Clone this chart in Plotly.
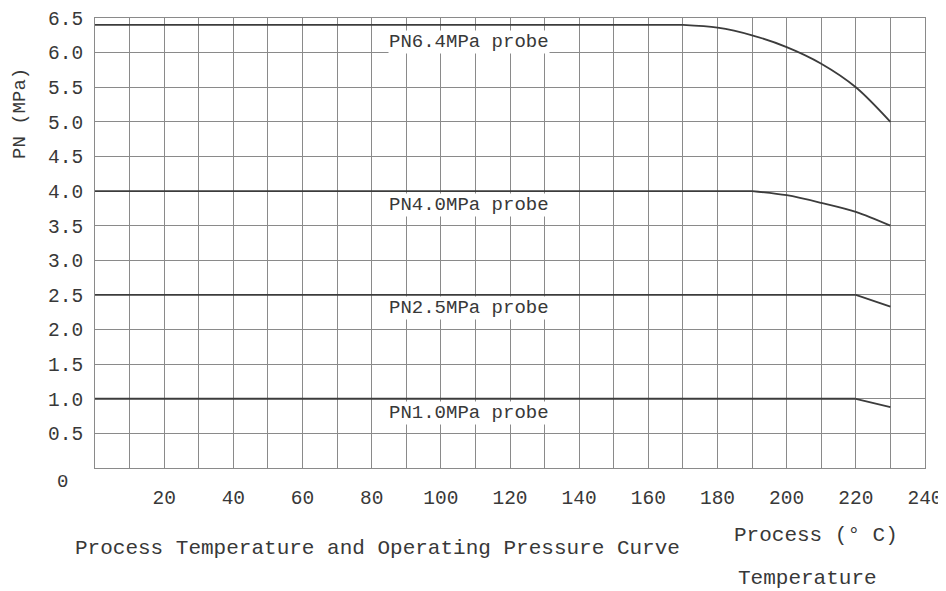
import plotly.graph_objects as go

# ---- data ----
temp_pn64 = [0, 170, 180, 190, 200, 210, 220, 230]
pres_pn64 = [6.4, 6.4, 6.36, 6.25, 6.08, 5.84, 5.50, 5.0]

temp_pn40 = [0, 190, 200, 210, 220, 230]
pres_pn40 = [4.0, 4.0, 3.94, 3.83, 3.70, 3.5]

temp_pn25 = [0, 220, 230]
pres_pn25 = [2.5, 2.5, 2.33]

temp_pn10 = [0, 220, 230]
pres_pn10 = [1.0, 1.0, 0.88]

series_names = ["PN6.4MPa probe", "PN4.0MPa probe", "PN2.5MPa probe", "PN1.0MPa probe"]
label_x = [108, 108, 108, 108]
label_y = [6.15, 3.8, 2.31, 0.79]

x_tick_vals = list(range(10, 250, 10))
x_tick_text = [str(v) if v % 20 == 0 else "" for v in x_tick_vals]
y_tick_vals = [0.5, 1.0, 1.5, 2.0, 2.5, 3.0, 3.5, 4.0, 4.5, 5.0, 5.5, 6.0, 6.5]
y_tick_text = ["%.1f" % v for v in y_tick_vals]

FONT = "Liberation Mono"
TXT = "#383838"
LINE = "#3c3c3c"
GRID = "#8a8a8a"

# page body has an 8px margin, so the figure is drawn 8px in from the window edge
OFF = 8
W, H = 946 - OFF, 591 - OFF
ml, mt = 95 - OFF, 18 - OFF
mr = W - (925 - OFF)
mb = H - (468 - OFF)
pw, ph = W - ml - mr, H - mt - mb


def px_to_paper(px, py):
    # px, py are window pixel positions
    fx, fy = px - OFF, py - OFF
    return (fx - ml) / pw, 1 - (fy - mt) / ph


fig = go.Figure()
for t, p in [(temp_pn64, pres_pn64), (temp_pn40, pres_pn40),
             (temp_pn25, pres_pn25), (temp_pn10, pres_pn10)]:
    # flat section (first two points) drawn straight, falling section smoothed
    fig.add_trace(go.Scatter(x=t[:2], y=p[:2], mode="lines",
                             line=dict(color=LINE, width=1.8),
                             showlegend=False, hoverinfo="skip"))
    fig.add_trace(go.Scatter(x=t[1:], y=p[1:], mode="lines",
                             line=dict(color=LINE, width=1.8, shape="spline", smoothing=0.9),
                             showlegend=False, hoverinfo="skip"))

for name, lx, ly in zip(series_names, label_x, label_y):
    fig.add_annotation(x=lx, y=ly, xref="x", yref="y", text=name, showarrow=False,
                       font=dict(family=FONT, size=19, color=TXT), bgcolor="white",
                       borderpad=0)

fig.add_annotation(x=0, y=0, xref="paper", yref="paper", text="0", showarrow=False,
                   xanchor="center", yanchor="middle", xshift=-33, yshift=-14,
                   font=dict(family=FONT, size=19, color=TXT))

for text, px, py, ang, size in [
    ("PN (MPa)", 20, 114, -90, 19),
    ("Process Temperature and Operating Pressure Curve", 377, 548, 0, 21),
    ("Process (° C)", 816, 535, 0, 21),
    ("Temperature", 807, 578, 0, 21),
]:
    ax_, ay_ = px_to_paper(px, py)
    fig.add_annotation(x=ax_, y=ay_, xref="paper", yref="paper", text=text,
                       showarrow=False, textangle=ang, xanchor="center", yanchor="middle",
                       font=dict(family=FONT, size=size, color=TXT))

fig.update_layout(
    width=W, height=H,
    margin=dict(l=ml, r=mr, t=mt, b=mb, autoexpand=False),
    paper_bgcolor="white", plot_bgcolor="white",
    xaxis=dict(range=[0, 240], tickvals=x_tick_vals, ticktext=x_tick_text,
               showgrid=True, gridcolor=GRID, gridwidth=1, zeroline=False,
               showline=True, linecolor=GRID, linewidth=1, mirror=True,
               ticks="", ticklabelstandoff=12, automargin=False,
               tickfont=dict(family=FONT, size=19.5, color=TXT)),
    yaxis=dict(range=[0, 6.5], tickvals=y_tick_vals, ticktext=y_tick_text,
               showgrid=True, gridcolor=GRID, gridwidth=1, zeroline=False,
               showline=True, linecolor=GRID, linewidth=1, mirror=True,
               ticks="", ticklabelstandoff=7, automargin=False,
               tickfont=dict(family=FONT, size=19.5, color=TXT)),
)

fig.write_html("out.html")
